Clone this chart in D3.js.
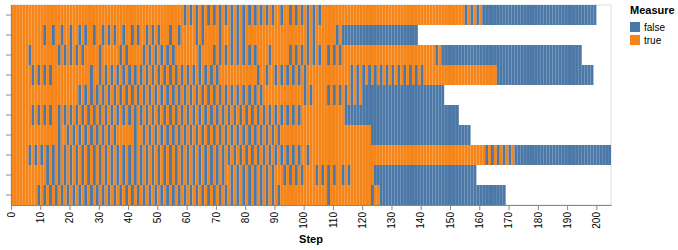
<!DOCTYPE html>
<html>
<head>
<meta charset="utf-8">
<script src="https://cdn.jsdelivr.net/npm/d3@7"></script>
<style>
  body { margin: 0; background: #fff; }
  svg text { font-family: "Liberation Sans", Arial, Helvetica, sans-serif; }
</style>
</head>
<body>
<div id="chart"></div>
<script>
// one row per run, one character per step: 1 = true, 0 = false (groups of 10 steps)
const runIds = ["run1", "run2", "run3", "run4", "run5", "run6", "run7", "run8", "run9", "run10"];

const measureRows = [
  "1111111111 1111111111 1111111111 1111111111 1111111111 1111111110 1010101010 1010101010 1010101010 1101101010 1010101111 1111111111 1111111111 1111111111 1111111111 1111101010 1000000000 0000000000 0000000000 0000000000",
  "1111111111 1011011011 0110101101 1010101101 1010110101 0111011011 1110101111 1011101010 1111111111 1111111111 1010111111 1010000000 0000000000 000000000",
  "1111110111 1111110101 0101011111 0111111010 1111101010 1010101111 1111011110 1010101010 1010111101 1111101010 1010101101 0101111111 1111111111 1111111111 1111101000 0000000000 0000000000 0000000000 0000000000 00000",
  "1111111010 1010111111 1111111011 0101010101 0101010101 0101010101 0101010101 0111111111 1111011011 0101010101 0111111111 1111110101 0101010101 0101010101 0111111111 1111111111 1111110000 0000000000 0000000000 000000000",
  "1111111111 1111111111 1110101010 1010101010 1010101010 1010101010 1010101010 1010101010 1010101111 1111111111 0101111101 0101010101 0000000000 0000000000 00000000",
  "1111111010 1010110101 0101010101 0101010101 0101010101 0101010101 0101010101 0101010101 0101010101 0101010101 1111111111 1111000000 0000000000 0000000000 0000000000 000",
  "1111111111 1111110110 1010101010 1010101111 1101101010 1010101010 1010101010 1010101010 1010101010 1011111111 1111111111 1111111111 1110000000 0000000000 0000000000 0000000",
  "1111110101 0101010101 0101010101 0101010101 0101010101 0101010101 0101010101 0101010101 0101010101 0101010101 1011111111 1111111111 1111111111 1111111111 1111111111 1111111111 1101010101 0100000000 0000000000 0000000000 00000",
  "1111111111 1101010101 0101010101 0101010101 0101010101 0101010101 0101010101 0101101010 1010101010 1110101010 1111010101 0110101111 1111000000 0000000000 0000000000 000000000",
  "1111111110 1010101010 1010101010 1010101010 1010101010 1010101010 1010101010 1010101010 1010101010 1011111111 1111111101 1111111111 1110110000 0000000000 0000000000 0000000000 000000000"
];

const measureLabels = ["false", "true"];
const stepTicks = [0, 10, 20, 30, 40, 50, 60, 70, 80, 90, 100, 110, 120, 130, 140, 150, 160, 170, 180, 190, 200];

(function stepChart() {

  let width = 678,
    height = 250,
    margin = ({ top: 5, left: 11 }),
    plotW = 600,
    plotH = 200;

  const svg = d3.select("#chart")
    .append("svg")
    .attr("width", width)
    .attr("height", height);

  let cells = [];
  let maxSteps = 0;
  measureRows.forEach((row, i) => {
    let chars = row.replace(/\s/g, "").split("");
    maxSteps = Math.max(maxSteps, chars.length);
    chars.forEach((c, step) => {
      cells.push({ run: runIds[i], step: step, measure: c === "1" ? "true" : "false" });
    });
  });

  let x = d3.scaleLinear()
    .domain([0, maxSteps])
    .range([margin.left, margin.left + plotW]);

  let y = d3.scaleBand()
    .domain(runIds)
    .range([margin.top, margin.top + plotH]);

  let color = d3.scaleOrdinal()
    .domain(measureLabels)
    .range(["#4c78a8", "#f58518"]);

  // view frame
  svg.append("rect")
    .attr("x", margin.left)
    .attr("y", margin.top)
    .attr("width", plotW)
    .attr("height", plotH)
    .attr("fill", "none")
    .attr("stroke", "#ddd");

  svg.append("g")
    .selectAll("rect")
    .data(cells)
    .join("rect")
    .attr("x", d => x(d.step))
    .attr("width", d => x(d.step + 1) - x(d.step))
    .attr("y", d => y(d.run))
    .attr("height", y.bandwidth())
    .attr("fill", d => color(d.measure));

  // x axis
  let xAxis = svg.append("g")
    .attr("transform", `translate(0,${margin.top + plotH})`)
    .call(d3.axisBottom(x).tickValues(stepTicks).tickSize(5).tickSizeOuter(0));

  xAxis.select(".domain").attr("stroke", "#888");
  xAxis.selectAll(".tick line").attr("stroke", "#888");
  xAxis.selectAll(".tick text")
    .attr("transform", "rotate(-90)")
    .attr("text-anchor", "end")
    .attr("x", -7)
    .attr("y", 0)
    .attr("dy", "0.32em")
    .attr("font-size", 10)
    .attr("font-family", "Liberation Sans, Arial, sans-serif")
    .attr("fill", "#000");

  svg.append("text")
    .attr("x", margin.left + plotW / 2)
    .attr("y", 243)
    .attr("text-anchor", "middle")
    .attr("font-weight", "bold")
    .attr("font-size", 11)
    .text("Step");

  // y axis, ticks only
  let yAxis = svg.append("g")
    .attr("transform", `translate(${margin.left},0)`)
    .call(d3.axisLeft(y).tickSize(5).tickSizeOuter(0).tickFormat(""));

  yAxis.select(".domain").attr("stroke", "#888");
  yAxis.selectAll(".tick line").attr("stroke", "#888");

  // legend
  let legend = svg.append("g")
    .attr("transform", "translate(630,0)");

  legend.append("text")
    .attr("x", 0)
    .attr("y", 14)
    .attr("font-weight", "bold")
    .attr("font-size", 11)
    .text("Measure");

  let items = legend.selectAll("g.item")
    .data(measureLabels)
    .join("g")
    .attr("class", "item")
    .attr("transform", (d, i) => `translate(0,${22 + i * 13})`);

  items.append("rect")
    .attr("width", 10)
    .attr("height", 10)
    .attr("fill", d => color(d));

  items.append("text")
    .attr("x", 14)
    .attr("y", 5)
    .attr("dy", "0.35em")
    .attr("font-size", 10)
    .text(d => d);

})();
</script>
</body>
</html>
